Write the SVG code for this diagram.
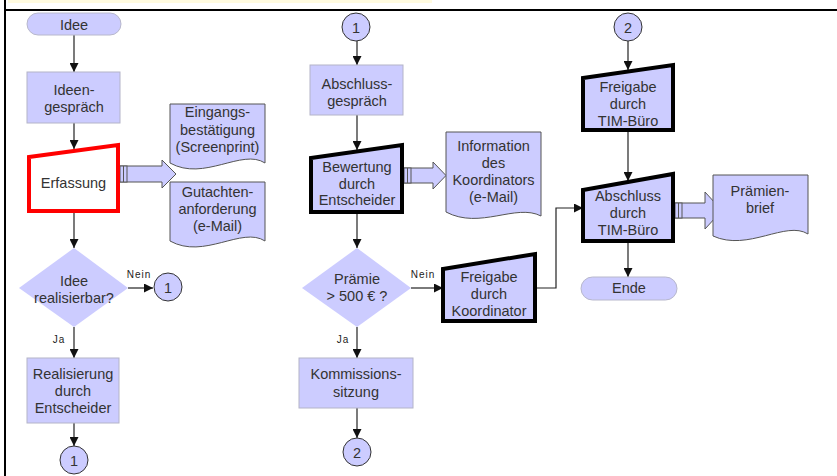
<svg xmlns="http://www.w3.org/2000/svg" width="837" height="476" viewBox="0 0 837 476">
<style>
text{font-family:"Liberation Sans",Arial,sans-serif;font-size:14.5px;fill:#333;text-anchor:middle}
.lbl{font-size:10px;letter-spacing:1px;fill:#222}
.box{fill:#ccccff;stroke:#b4b4c8;stroke-width:1}
.term{fill:#ccccff;stroke:#b8b8cc;stroke-width:1}
.dia{fill:#ccccff;stroke:none}
.doc{fill:#ccccff;stroke:#555;stroke-width:1}
.man{fill:#ccccff;stroke:#000;stroke-width:4;stroke-linejoin:miter}
.red{fill:#fff;stroke:#f00;stroke-width:4;stroke-linejoin:miter}
.circ{fill:#ccccff;stroke:#333;stroke-width:1}
.con{fill:none;stroke:#222;stroke-width:1.2;marker-end:url(#ah)}
.blk{fill:#ccccff;stroke:#555;stroke-width:1}
</style>
<defs>
<marker id="ah" viewBox="0 0 10 10" refX="10" refY="5" markerWidth="9" markerHeight="9" markerUnits="userSpaceOnUse" orient="auto">
<path d="M0,0 L10,5 L0,10 z" fill="#111"/>
</marker>
</defs>
<rect width="837" height="476" fill="#fff"/>
<rect x="8" y="0" width="424" height="3" fill="#fffbe0"/>
<line x1="5" y1="10" x2="837" y2="10" stroke="#000" stroke-width="2"/>
<line x1="5" y1="0" x2="5" y2="476" stroke="#000" stroke-width="2"/>

<g id="connectors">
<path class="con" d="M74,35 V72"/>
<path class="con" d="M74,123 V149"/>
<path class="con" d="M74,211 V248"/>
<path class="con" d="M128,288 H153"/>
<path class="con" d="M74,327 V358"/>
<path class="con" d="M74,423 V446"/>
<path class="con" d="M357,41 V65"/>
<path class="con" d="M357,115 V150"/>
<path class="con" d="M357,212 V248"/>
<path class="con" d="M411,288 H443"/>
<path class="con" d="M357,327 V358"/>
<path class="con" d="M357,408 V438"/>
<path class="con" d="M535,288 H556 V208 H583"/>
<path class="con" d="M628,41 V70"/>
<path class="con" d="M628,130 V181"/>
<path class="con" d="M628,241 V277"/>
<g id="blk1">
<path class="blk" d="M120,166 H162 V160 L176,174 L162,188 V182 H120 Z"/>
<rect class="blk" x="120" y="166" width="7" height="16"/>
<line x1="123.5" y1="166" x2="123.5" y2="182" stroke="#555"/>
</g>
<g id="blk2">
<path class="blk" d="M404,168 H433 V162 L446,175.5 L433,189 V183 H404 Z"/>
<rect class="blk" x="404" y="168" width="7" height="15"/>
<line x1="407.5" y1="168" x2="407.5" y2="183" stroke="#555"/>
</g>
<g id="blk3">
<path class="blk" d="M675,203 H705 V192 L722,210.5 L705,229 V218 H675 Z"/>
<rect class="blk" x="675" y="203" width="7" height="15"/>
<line x1="678.5" y1="203" x2="678.5" y2="218" stroke="#555"/>
</g>
<text class="lbl" x="139" y="278">Nein</text>
<text class="lbl" x="59" y="343">Ja</text>
<text class="lbl" x="423" y="278">Nein</text>
<text class="lbl" x="343" y="343">Ja</text>
</g>

<g id="n-idee">
<rect class="term" x="27" y="13" width="94" height="22" rx="11"/>
<text x="74" y="29.5">Idee</text>
</g>
<g id="n-ideengespraech">
<rect class="box" x="27" y="72" width="93" height="51"/>
<text x="74" y="95">Ideen-</text>
<text x="74" y="112">gespräch</text>
</g>
<g id="n-erfassung">
<path class="red" d="M29,157 L118,145 L118,211 L29,211 Z"/>
<text x="73.5" y="188">Erfassung</text>
</g>
<g id="n-eingang">
<path class="doc" d="M170,104 H265 V163 C242,148 204,182 170,163 Z"/>
<text x="217.5" y="117">Eingangs-</text>
<text x="217.5" y="134.5">bestätigung</text>
<text x="217.5" y="152">(Screenprint)</text>
</g>
<g id="n-gutachten">
<path class="doc" d="M170,182 H265 V241 C242,226 204,260 170,241 Z"/>
<text x="217.5" y="197">Gutachten-</text>
<text x="217.5" y="214">anforderung</text>
<text x="217.5" y="231">(e-Mail)</text>
</g>
<g id="n-realisierbar">
<path class="dia" d="M74,248 L128,288 L74,327 L19,288 Z"/>
<text x="74" y="286">Idee</text>
<text x="74" y="303">realisierbar?</text>
</g>
<g id="n-c1a">
<circle class="circ" cx="168" cy="287" r="14"/>
<text x="168" y="292.5">1</text>
</g>
<g id="n-realisierung">
<rect class="box" x="27" y="358" width="92" height="65"/>
<text x="73" y="379">Realisierung</text>
<text x="73" y="396">durch</text>
<text x="73" y="413">Entscheider</text>
</g>
<g id="n-c1b">
<circle class="circ" cx="74" cy="460" r="14"/>
<text x="74" y="465.5">1</text>
</g>

<g id="n-c1c">
<circle class="circ" cx="356" cy="27" r="14"/>
<text x="356" y="32.5">1</text>
</g>
<g id="n-abschlussgespraech">
<rect class="box" x="310" y="65" width="93" height="50"/>
<text x="357" y="89">Abschluss-</text>
<text x="357" y="106">gespräch</text>
</g>
<g id="n-bewertung">
<path class="man" d="M311,158 L402,145 L402,212 L311,212 Z"/>
<text x="357" y="172">Bewertung</text>
<text x="357" y="189">durch</text>
<text x="357" y="205">Entscheider</text>
</g>
<g id="n-information">
<path class="doc" d="M446,132 H541 V216 C516,203 480,230 446,212 Z"/>
<text x="493.5" y="151">Information</text>
<text x="493.5" y="168">des</text>
<text x="493.5" y="185">Koordinators</text>
<text x="493.5" y="202">(e-Mail)</text>
</g>
<g id="n-praemie">
<path class="dia" d="M357,248 L411,288 L357,327 L302,288 Z"/>
<text x="357" y="284">Prämie</text>
<text x="357" y="301">&gt; 500 € ?</text>
</g>
<g id="n-freigabe-koord">
<path class="man" d="M443,269 L535,254 L535,321 L443,321 Z"/>
<text x="489" y="282">Freigabe</text>
<text x="489" y="299">durch</text>
<text x="489" y="316">Koordinator</text>
</g>
<g id="n-kommission">
<rect class="box" x="299" y="358" width="114" height="50"/>
<text x="356" y="379">Kommissions-</text>
<text x="356" y="397">sitzung</text>
</g>
<g id="n-c2a">
<circle class="circ" cx="357" cy="452" r="14"/>
<text x="357" y="457.5">2</text>
</g>

<g id="n-c2b">
<circle class="circ" cx="628" cy="27" r="14"/>
<text x="628" y="32.5">2</text>
</g>
<g id="n-freigabe-tim">
<path class="man" d="M583,78 L673,65 L673,130 L583,130 Z"/>
<text x="628" y="92">Freigabe</text>
<text x="628" y="109">durch</text>
<text x="628" y="126">TIM-Büro</text>
</g>
<g id="n-abschluss-tim">
<path class="man" d="M583,190 L673,174 L673,241 L583,241 Z"/>
<text x="628" y="201">Abschluss</text>
<text x="628" y="218">durch</text>
<text x="628" y="235">TIM-Büro</text>
</g>
<g id="n-praemienbrief">
<path class="doc" d="M713,175 H808 V234 C786,220 748,252 713,236 Z"/>
<text x="760" y="196">Prämien-</text>
<text x="760" y="213">brief</text>
</g>
<g id="n-ende">
<rect class="term" x="581" y="277" width="96" height="23" rx="11.5"/>
<text x="629" y="293">Ende</text>
</g>
</svg>
